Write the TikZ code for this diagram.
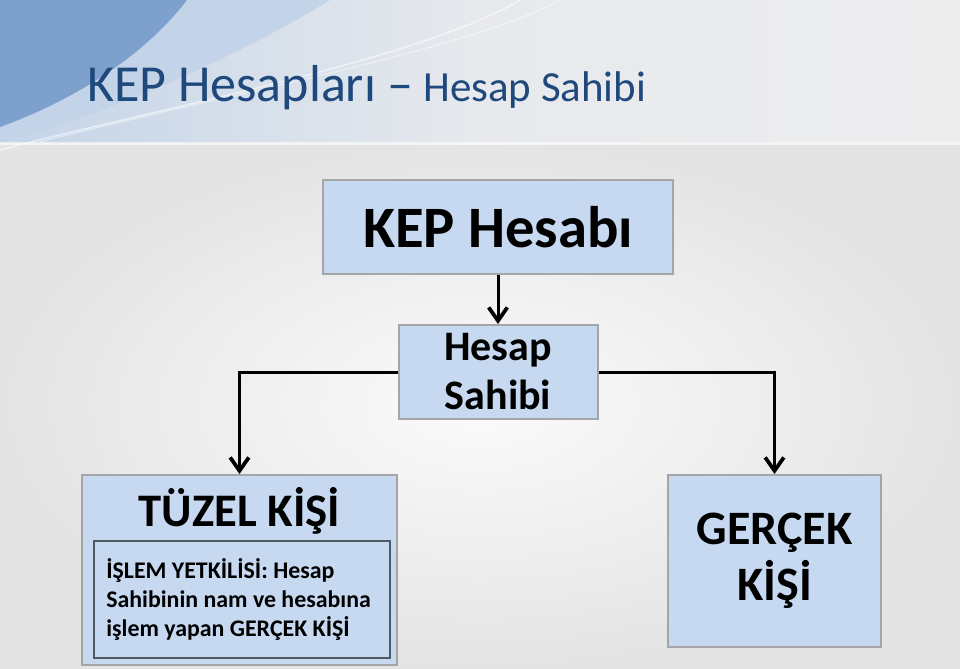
\documentclass[tikz,border=0pt]{standalone}
\usepackage{fontspec}
\setmainfont{Carlito}
\usetikzlibrary{arrows.meta}
\definecolor{baslikmavi}{RGB}{31,73,125}
\definecolor{kutudolgu}{RGB}{198,217,241}
\definecolor{kutucizgi}{RGB}{165,165,165}
\definecolor{icerikcizgi}{RGB}{80,88,98}
\definecolor{zemin}{RGB}{228,228,228}
\definecolor{bantgri}{RGB}{237,237,238}
\definecolor{koyumavi}{RGB}{126,160,204}
\definecolor{acikmavi}{RGB}{196,212,232}
\newcommand{\boyut}[2]{\fontsize{#1}{#2}\selectfont}

\begin{document}
\begin{tikzpicture}[x=0.75pt,y=-0.75pt,
    kutu/.style={draw=kutucizgi,line width=1.5pt,fill=kutudolgu,inner sep=0pt,align=center,font=\bfseries},
    link/.style={line width=2.25pt,-{Straight Barb[length=10pt,width=14pt,line width=2.8pt]}}]
    % zemin ve baslik bandi
    \path[use as bounding box] (0,0) rectangle (960,668);
    \shade[inner color=white!85!zemin,outer color=zemin] (0,142) rectangle (960,668);
    \shade[left color=acikmavi,right color=bantgri,middle color=bantgri!85!acikmavi] (0,0) rectangle (960,142);
    \fill[acikmavi] (0,142) .. controls (110,115) and (250,50) .. (330,0) -- (0,0) -- cycle;
    \fill[koyumavi] (0,127) .. controls (75,100) and (145,55) .. (187,0) -- (0,0) -- cycle;
    \draw[white,opacity=0.6,line width=1pt] (0,150) .. controls (150,110) and (420,60) .. (520,0);
    \draw[white,opacity=0.4,line width=1pt] (40,142) .. controls (200,100) and (470,50) .. (560,0);
    \fill[white,opacity=0.6] (0,142) rectangle (960,145);

    \node[anchor=base west,inner sep=0pt,text=baslikmavi,font=\boyut{32.2}{38}] (baslik) at (87,101)
        {{\boyut{39}{47}KEP Hesapları –} Hesap Sahibi};

    % kutular
    \node[kutu,minimum width=262.5pt,minimum height=70.5pt,font=\bfseries\boyut{44}{52}] (hesap) at (498,227) {KEP Hesabı};
    \node[kutu,minimum width=149.25pt,minimum height=70.5pt,font=\bfseries\boyut{31.5}{36.75}] (sahip) at (498,372) {Hesap\\Sahibi};
    \node[kutu,minimum width=236.25pt,minimum height=142.5pt] (tuzel) at (239.5,570) {};
    \node[anchor=base,inner sep=0pt,font=\bfseries\boyut{35}{42}] (tuzelad) at (239.5,526) {TÜZEL KİŞİ};
    \node[draw=icerikcizgi,line width=1.5pt,minimum width=222pt,minimum height=87.75pt,inner sep=0pt] (yetkili) at (242,599.5) {};
    \node[anchor=base west,inner sep=0pt,align=left,font=\bfseries\boyut{17.9}{21.75}] (yetkilimetin) at (106,636)
        {İŞLEM YETKİLİSİ: Hesap\\Sahibinin nam ve hesabına\\işlem yapan GERÇEK KİŞİ};
    \node[kutu,minimum width=159.75pt,minimum height=129pt,font=\bfseries\boyut{36}{42}] (gercek) at (774.5,561) {GERÇEK\\KİŞİ};

    % baglantilar
    \draw[link] (hesap.south) -- (sahip.north);
    \draw[link] (sahip.west) -| (tuzel.north);
    \draw[link] (sahip.east) -| (gercek.north);
\end{tikzpicture}
\end{document}
